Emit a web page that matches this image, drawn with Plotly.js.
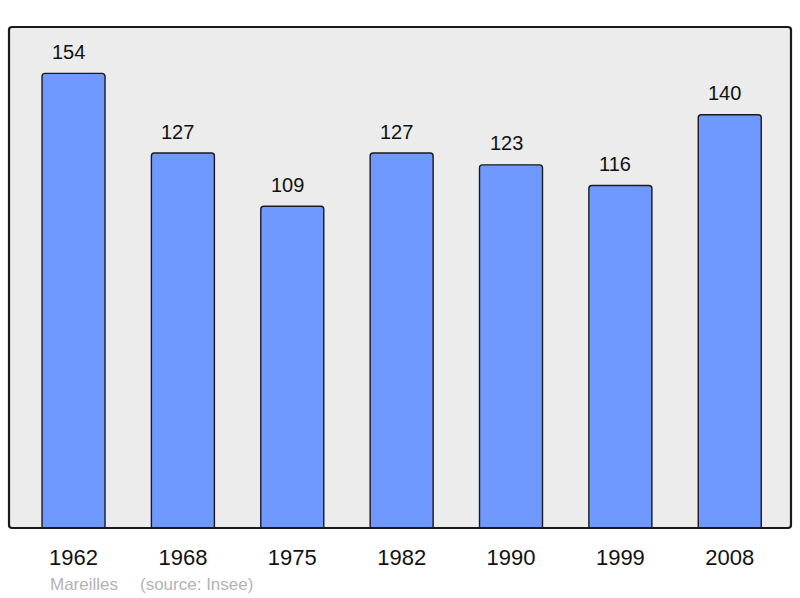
<!DOCTYPE html>
<html>
<head>
<meta charset="utf-8">
<script src="https://cdn.plot.ly/plotly-3.0.1.min.js"></script>
<style>html,body{margin:0;padding:0;background:#fff;}#chart{width:800px;height:598px;}</style>
</head>
<body>
<div id="chart"></div>
<script>
const years = ["1962", "1968", "1975", "1982", "1990", "1999", "2008"];
const population = [154, 127, 109, 127, 123, 116, 140];
const commune = "Mareilles";
const source = "(source: Insee)";

const trace = {
  type: "bar",
  x: years,
  y: population,
  width: 0.576,
  marker: {
    color: "#7099ff",
    line: {color: "#1a1a1a", width: 1.4},
    cornerradius: 3
  },
  hoverinfo: "skip"
};

const valueLabels = population.map((v, i) => ({
  x: i, y: v, xref: "x", yref: "y",
  text: String(v), showarrow: false,
  yanchor: "middle", yshift: 21.5, xshift: -5,
  font: {family: "Liberation Sans, Arial, sans-serif", size: 20, color: "#111111"}
}));

const layout = {
  width: 800, height: 598,
  margin: {l: 9, r: 9, t: 27, b: 70},
  paper_bgcolor: "#ffffff",
  plot_bgcolor: "#ececec",
  showlegend: false,
  xaxis: {
    type: "category",
    range: [-0.59, 6.56],
    showgrid: false, zeroline: false, showline: false,
    ticks: "outside", ticklen: 10, tickcolor: "rgba(0,0,0,0)",
    tickfont: {family: "Liberation Sans, Arial, sans-serif", size: 22, color: "#111"},
    fixedrange: true
  },
  yaxis: {
    range: [0, 169.7],
    showgrid: false, zeroline: false, showline: false,
    showticklabels: false, ticks: "",
    fixedrange: true
  },
  shapes: [{
    type: "path", xref: "paper", yref: "paper",
    path: "M 0,0.006 L 0,0.994 Q 0,1 0.004,1 L 0.996,1 Q 1,1 1,0.994 L 1,0.006 Q 1,0 0.996,0 L 0.004,0 Q 0,0 0,0.006 Z",
    line: {color: "#1a1a1a", width: 2.2},
    fillcolor: "rgba(0,0,0,0)",
    layer: "above"
  }],
  annotations: valueLabels.concat([
    {xref: "paper", yref: "paper", x: 0.0495, y: 0, xanchor: "left", yanchor: "top", yshift: -45,
     text: commune, showarrow: false,
     font: {family: "Liberation Sans, Arial, sans-serif", size: 17, color: "#b3b3b3"}},
    {xref: "paper", yref: "paper", x: 0.165, y: 0, xanchor: "left", yanchor: "top", yshift: -45,
     text: source, showarrow: false,
     font: {family: "Liberation Sans, Arial, sans-serif", size: 17, color: "#b3b3b3"}}
  ])
};

Plotly.newPlot("chart", [trace], layout, {displayModeBar: false, staticPlot: true});
</script>
</body>
</html>
